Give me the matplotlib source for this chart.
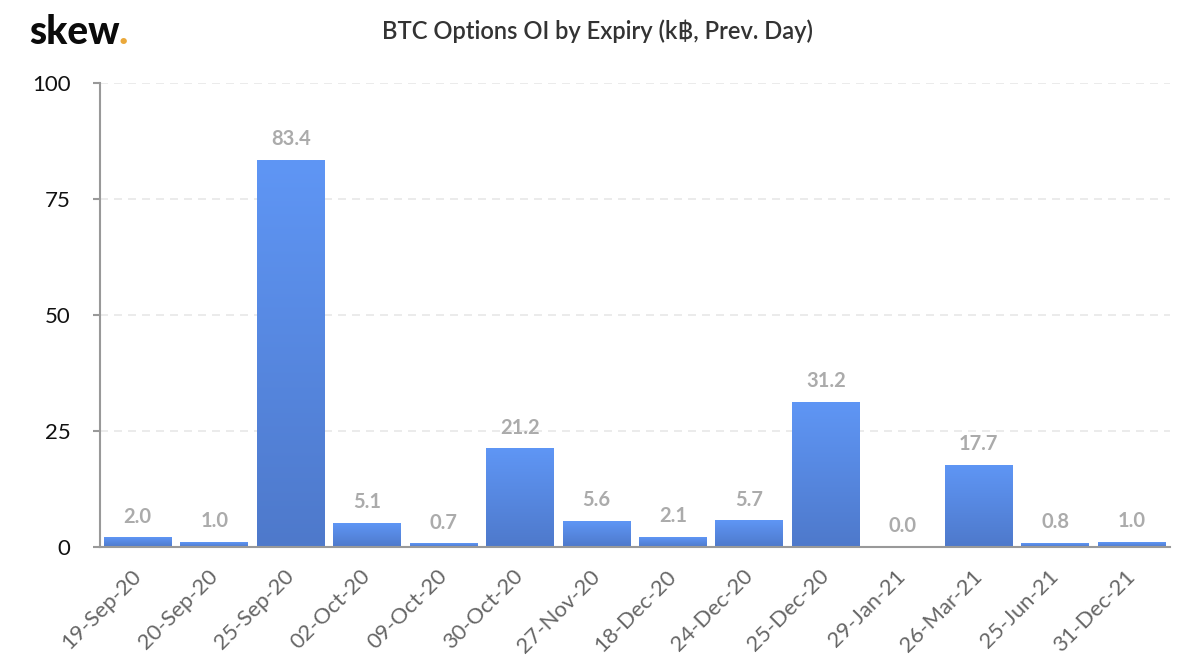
import numpy as np
import matplotlib
matplotlib.use("Agg")
import matplotlib.pyplot as plt
from matplotlib.colors import LinearSegmentedColormap
from matplotlib.transforms import ScaledTranslation

expiries = ["19-Sep-20", "20-Sep-20", "25-Sep-20", "02-Oct-20", "09-Oct-20", "30-Oct-20", "27-Nov-20",
            "18-Dec-20", "24-Dec-20", "25-Dec-20", "29-Jan-21", "26-Mar-21", "25-Jun-21", "31-Dec-21"]
oi_values = [2.0, 1.0, 83.4, 5.1, 0.7, 21.2, 5.6, 2.1, 5.7, 31.2, 0.0, 17.7, 0.8, 1.0]
y_ticks = [0, 25, 50, 75, 100]
title = "BTC Options OI by Expiry (k\u0e3f, Prev. Day)"

plt.rcParams['font.family'] = ['Lato', 'DejaVu Sans']

fig = plt.figure(figsize=(12, 6.7), dpi=100, facecolor='white')
ax = fig.add_axes([99.5/1200, 1-546.7/670, 1070.5/1200, 464/670])
x = np.arange(len(expiries))
cmap = LinearSegmentedColormap.from_list("bar", ["#4e79cb", "#5f96f5"])
grad = np.linspace(0, 1, 256).reshape(-1, 1)

bars = ax.bar(x, oi_values, width=0.889, color='none', edgecolor='none', zorder=3)
for b, v in zip(bars, oi_values):
    cx = b.get_x() + b.get_width()/2
    ax.text(cx, v+2.3, f"{v:.1f}", ha='center', va='bottom',
            fontsize=14.5, fontweight='bold', color='#ababab', zorder=4)
    if v <= 0:
        continue
    im = ax.imshow(grad, cmap=cmap, origin='lower', aspect='auto', zorder=3,
                   extent=(b.get_x(), b.get_x()+b.get_width(), 0, v))
    im.set_clip_path(b)
ax.set_xlim(-0.5, len(expiries)-0.5)
ax.set_ylim(0, 100)

ax.set_yticks(y_ticks)
ax.set_yticklabels([str(t) for t in y_ticks], fontsize=16, color='#111111')
ax.set_xticks(x)
ax.set_xticklabels(expiries, rotation=45, ha='right', rotation_mode='anchor', fontsize=15.8, color='#666666')
ax.tick_params(axis='x', length=0, pad=14)
ax.tick_params(axis='y', length=5, width=1.5, color='#999999', pad=16)
shift = ScaledTranslation(-7/100, 0, fig.dpi_scale_trans)
for lab in ax.get_xticklabels():
    lab.set_transform(lab.get_transform() + shift)
ax.yaxis.grid(True, color='#e8e8e8', linestyle=(0, (4.8, 3.6)), linewidth=1.2, zorder=0)
ax.set_axisbelow(True)
for s in ('top', 'right'):
    ax.spines[s].set_visible(False)
for s in ('left', 'bottom'):
    ax.spines[s].set_color('#999999')
    ax.spines[s].set_linewidth(1.5)
    ax.spines[s].set_zorder(5)

fig.text(597/1200, 1-31/670, title, ha='center', va='center', fontsize=17.1, color='#333333', fontweight='semibold')
fig.text(29/1200, 1-44/670, "skew", ha='left', va='baseline', fontsize=28, fontweight='black', color='#0b0b0b')
fig.text(118.5/1200, 1-44/670, ".", ha='left', va='baseline', fontsize=28, fontweight='black', color='#eaa83a')

fig.savefig("out.png", dpi=100, facecolor='white')
